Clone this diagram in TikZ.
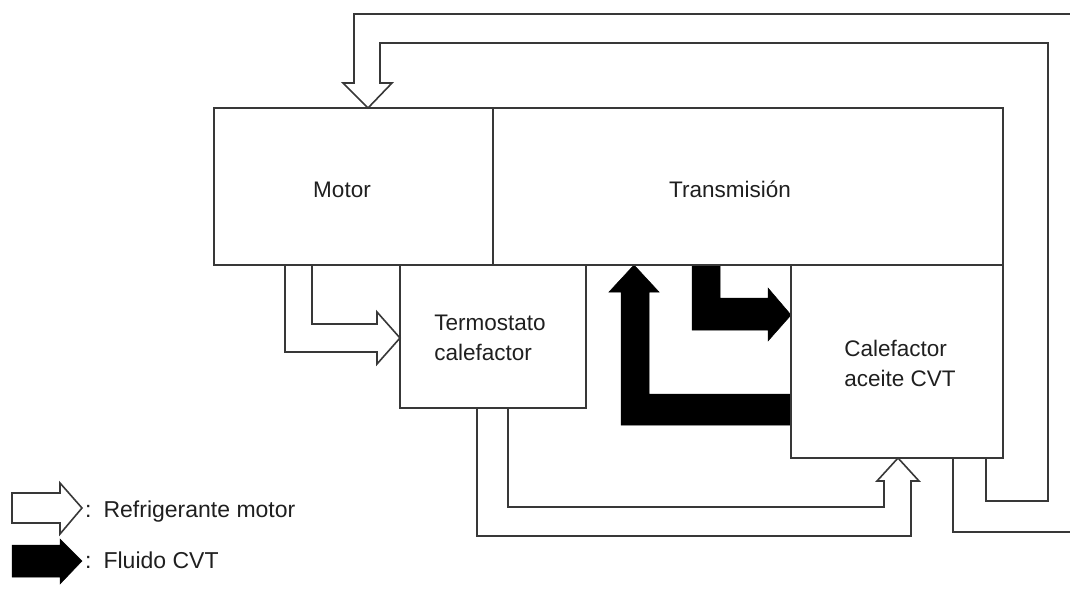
\documentclass[tikz,border=0pt]{standalone}
\usepackage{fontspec}
\setmainfont{Liberation Sans}
\begin{document}
\begin{tikzpicture}[x=1pt,y=-1pt,
  ln/.style={draw=black!78, line width=1.6pt, line join=miter},
  box/.style={ln},
  hollow/.style={ln, fill=white},
  solidarrow/.style={fill=black, draw=black, line width=0.5pt},
  lbl/.style={font=\fontsize{22.5}{30}\selectfont, inner sep=0pt, align=left, text=black!88},
  leg/.style={font=\fontsize{23}{26}\selectfont, inner sep=0pt, text=black!88}]
\useasboundingbox (0,0) rectangle (1070,591);

% engine coolant return into Motor (from top)
\draw[ln] (1070,14) -- (354,14) -- (354,83) -- (343,83) -- (368,108) -- (392,83) -- (380,83) -- (380,43) -- (1048,43) -- (1048,501) -- (986,501) -- (986,458);

% Motor -> Termostato
\draw[hollow] (285,265) -- (285,352) -- (377,352) -- (377,364) -- (400,338) -- (377,312) -- (377,324) -- (312,324) -- (312,265);

% Termostato -> Calefactor aceite CVT
\draw[hollow] (508,408) -- (508,507) -- (884,507) -- (884,481) -- (877,481) -- (898,458) -- (919,481) -- (911,481) -- (911,536) -- (477,536) -- (477,408);

% Calefactor out to the right
\draw[ln] (953,458) -- (953,532) -- (1070,532);

% CVT fluid arrows
\fill[solidarrow] (791,394) -- (649,394) -- (649,292) -- (659,292) -- (634,265) -- (609,292) -- (621,292) -- (621,425) -- (791,425) -- cycle;
\fill[solidarrow] (692,265) -- (692,330) -- (768,330) -- (768,341) -- (791,315) -- (768,288) -- (768,298) -- (720,298) -- (720,265) -- cycle;

% boxes
\draw[box] (214,108) rectangle (493,265);
\draw[box] (493,108) rectangle (1003,265);
\draw[box] (400,265) rectangle (586,408);
\draw[box] (791,265) rectangle (1003,458);

% labels
\node[lbl, anchor=base] (motor) at (342,197) {Motor};
\node[lbl, anchor=base] (trans) at (730,197) {Transmisión};
\node[lbl] (termo) at (490,338) {Termostato\\calefactor};
\node[lbl] (calef) at (900,363) {Calefactor\\aceite CVT};

% legend
\draw[hollow] (12,493) -- (60,493) -- (60,483) -- (82,508) -- (60,534) -- (60,523) -- (12,523) -- cycle;
\fill[solidarrow] (12,545) -- (60,545) -- (60,539) -- (82,561) -- (60,584) -- (60,577) -- (12,577) -- cycle;
\node[leg, anchor=base west] (legA) at (85,517) {:\hspace{12pt}Refrigerante motor};
\node[leg, anchor=base west] (legB) at (85,568) {:\hspace{12pt}Fluido CVT};
\end{tikzpicture}
\end{document}
